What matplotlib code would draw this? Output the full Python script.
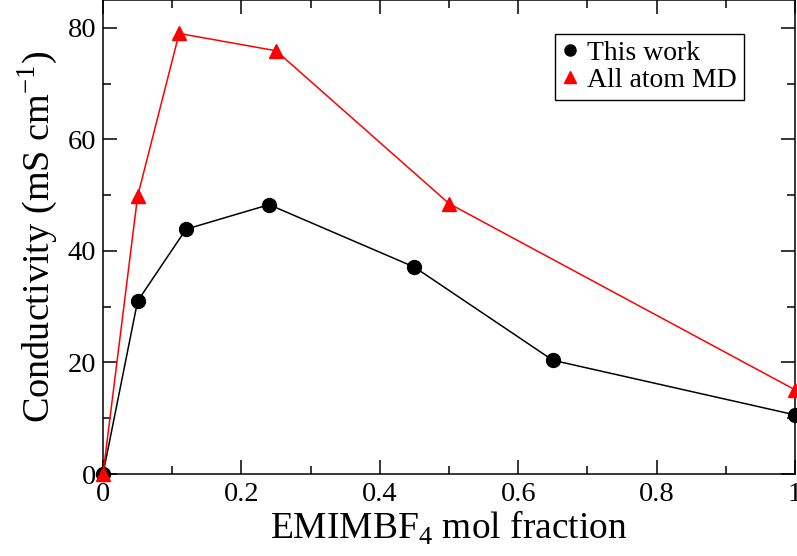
import matplotlib
matplotlib.use("Agg")
import matplotlib.pyplot as plt
from matplotlib.ticker import MultipleLocator, FixedLocator

# Data
this_work_x = [0.0, 0.05, 0.12, 0.24, 0.45, 0.65, 1.0]
this_work_y = [0.0, 31.0, 43.9, 48.3, 37.1, 20.4, 10.6]
md_x = [0.0, 0.05, 0.11, 0.25, 0.5, 1.0]
md_y = [0.0, 49.8, 79.0, 75.9, 48.5, 15.1]
x_ticks = [0, 0.2, 0.4, 0.6, 0.8, 1.0]
x_tick_labels = ["0", "0.2", "0.4", "0.6", "0.8", "1"]
y_ticks = [0, 20, 40, 60, 80]

plt.rcParams['font.family'] = ['Liberation Serif', 'DejaVu Serif']
plt.rcParams['mathtext.fontset'] = 'custom'
plt.rcParams['mathtext.rm'] = 'Liberation Serif'

fig = plt.figure(figsize=(7.97, 5.56), dpi=100)
ax = fig.add_axes([103/797, (556-474)/556, (795-103)/797, 474/556])

ax.plot(this_work_x, this_work_y, color='black', lw=1.1, marker='o', ms=10,
        label='This work', clip_on=False, zorder=3)
ax.plot(md_x, md_y, color='red', lw=1.1, marker='^', ms=10,
        label='All atom MD', clip_on=False, zorder=4)

ax.set_xlim(0, 1)
ax.set_ylim(0, 85)
ax.xaxis.set_major_locator(FixedLocator(x_ticks))
ax.set_xticklabels(x_tick_labels)
ax.xaxis.set_minor_locator(MultipleLocator(0.1))
ax.yaxis.set_major_locator(FixedLocator(y_ticks))
ax.yaxis.set_minor_locator(MultipleLocator(10))

ax.tick_params(which='both', direction='in', top=True, right=True, width=1.1,
               labelsize=20.5)
ax.tick_params(which='major', length=10)
ax.tick_params(which='minor', length=6)
ax.tick_params(axis='x', pad=6)
ax.tick_params(axis='y', pad=5)
for s in ax.spines.values():
    s.set_linewidth(1.1)

ax.set_xlabel(r'EMIMBF$_4$ mol fraction', fontsize=27, labelpad=1)
ax.set_ylabel(r'Conductivity (mS cm$^{-1}$)', fontsize=27.5, labelpad=5)

leg = ax.legend(loc='upper right', bbox_to_anchor=(0.946, 0.958), fontsize=20,
                handlelength=0.6, handletextpad=0.3, borderpad=0.25,
                labelspacing=0.05, fancybox=False, framealpha=1,
                edgecolor='black', markerscale=0.8)
for line in leg.get_lines():
    line.set_linestyle('none')
leg.get_frame().set_linewidth(1.0)

fig.savefig('out.png', dpi=100)
